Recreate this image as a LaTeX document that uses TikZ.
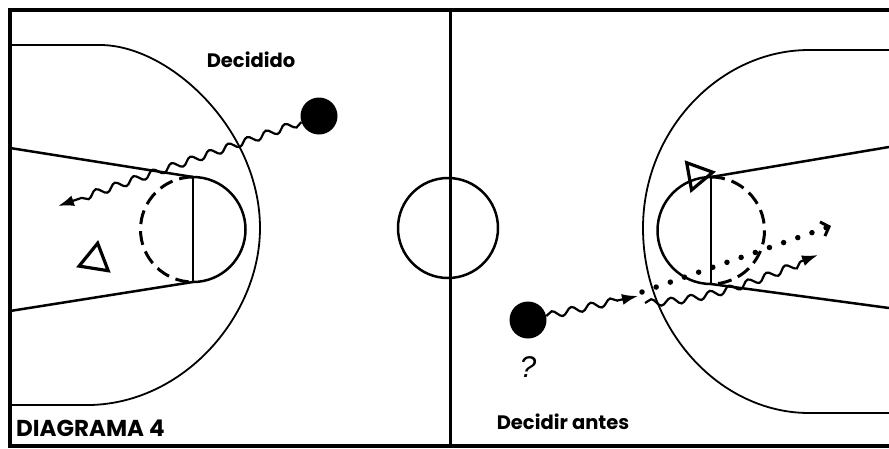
\documentclass[tikz,border=0pt]{standalone}
\usepackage{fontspec}
\setmainfont{Poppins}
\newfontfamily\qfont{Liberation Sans}
\usetikzlibrary{decorations.pathmorphing,arrows.meta,shapes.geometric}
\begin{document}
\begin{tikzpicture}[x=1pt,y=-1pt,
  border/.style={line width=3.5pt},
  courtline/.style={line width=2.5pt},
  arcline/.style={line width=1.8pt},
  ballnode/.style={circle,fill=black,minimum size=37pt,inner sep=0pt},
  defender/.style={regular polygon,regular polygon sides=3,draw,line width=3.2pt,minimum size=34pt,inner sep=0pt},
  dribble/.style={line width=2.2pt,decorate,decoration={snake,amplitude=3.5pt,segment length=20pt,post length=16pt},-{Latex[length=16pt,width=11pt]}},
  dots/.style={line width=5.5pt,line cap=round,dash pattern=on 0pt off 15pt,-{Straight Barb[length=7pt,width=15pt,line width=3pt]}},
  halfdash/.style={line width=3pt,dash pattern=on 14pt off 7pt},
  lbl/.style={font=\bfseries\fontsize{19.5}{22}\selectfont,inner sep=0pt}
]
\useasboundingbox (0,0) rectangle (889,448);
% outer border
\draw[border] (889,10) -- (10,10) -- (10,446) -- (889,446);
% centre line and circle
\draw[line width=3pt] (450,10) -- (450,446);
\draw[courtline] (448,228) circle[radius=50];
% left three-point line
\draw[arcline] (10,45) -- (100,45) .. controls (170,45) and (260,130) .. (260,228)
  .. controls (260,315) and (185,403) .. (90,405) -- (10,405);
% left lane
\draw[courtline] (10,148) -- (193,177);
\draw[courtline] (10,311) -- (193,282);
\draw[line width=2.8pt] (193,177) -- (193,282);
\draw[courtline] (193,177) arc[start angle=-90,end angle=90,radius=52.5];
\draw[halfdash] (193,177) arc[start angle=-90,end angle=-270,radius=52.5];
% right three-point line
\draw[arcline] (889,50) -- (809,50) .. controls (720,50) and (643,130) .. (643,228)
  .. controls (643,330) and (720,413) .. (809,413) -- (889,413);
% right lane
\draw[courtline] (889,147) -- (711,177);
\draw[courtline] (889,308) -- (711,284);
\draw[line width=2.8pt] (711,177) -- (711,284);
\draw[courtline] (711,177) arc[start angle=-90,end angle=-270,radius=53.5];
\draw[halfdash] (711,177) arc[start angle=-90,end angle=90,radius=53.5];
% players and balls
\node[ballnode] (bl) at (319,116) {};
\node[ballnode] (br) at (528,320) {};
\node[defender,shape border rotate=-9] (dl) at (95,260) {};
\node[defender,shape border rotate=40,minimum size=32pt] (dr) at (697,175) {};
% connectors
\coordinate (lend) at (58,206);
\draw[dribble] (bl) -- (lend);
\coordinate (r1) at (638,296);
\draw[dribble] (br) -- (r1);
\coordinate (r2s) at (645,303);
\coordinate (r2e) at (818,255);
\draw[dribble] (r2s) .. controls (715,300) and (760,276) .. (r2e);
\coordinate (d1) at (642,292);
\coordinate (d2) at (831,226);
\draw[dots] (d1) -- (d2);
% texts
\node[lbl] (t1) at (251,60) {Decidido};
\node[lbl] (t2) at (563,422) {Decidir antes};
\node[lbl,anchor=west,font=\bfseries\fontsize{23}{26}\selectfont] (t3) at (16,428) {DIAGRAMA 4};
\node[inner sep=0pt] (q) at (528,367) {\qfont\itshape\fontsize{30}{32}\selectfont ?};
\end{tikzpicture}
\end{document}
